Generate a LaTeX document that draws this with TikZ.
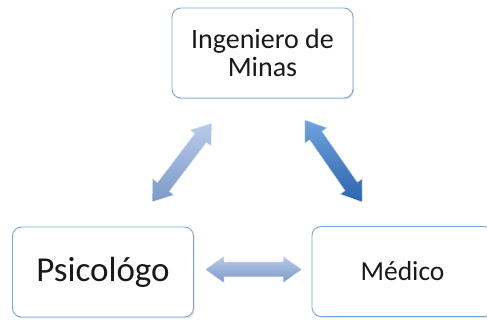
\documentclass[tikz,border=0pt]{standalone}
\usepackage{fontspec}
\setmainfont{Carlito}
\usetikzlibrary{shadows}
\definecolor{boxline}{HTML}{7EA6D6}
\definecolor{lightA}{HTML}{B8CBE8}
\definecolor{lightB}{HTML}{7D99C8}
\definecolor{darkA}{HTML}{6FA2DE}
\definecolor{darkB}{HTML}{2E64AC}
\tikzset{
  rolebox/.style={draw=boxline, line width=0.9pt, fill=white, rounded corners=9pt,
    minimum width=181pt, minimum height=90pt, align=center, text=black!90,
    drop shadow={opacity=0.25, shadow xshift=1pt, shadow yshift=-1.5pt}},
  lightarrow/.style={top color=lightA, bottom color=lightB, draw=white!85!lightA, line width=0.5pt},
  darkarrow/.style={top color=darkA, bottom color=darkB, draw=white!70!darkA, line width=0.5pt}
}
% #1 start point, #2 angle, #3 length, #4 style
\newcommand{\blockdblarrow}[4]{%
  \begin{scope}[shift={#1}, rotate=#2]
    \path[#4] (0,0) -- (19,13.5) -- (19,7.5) -- (#3-19,7.5) -- (#3-19,13.5) -- (#3,0)
      -- (#3-19,-13.5) -- (#3-19,-7.5) -- (19,-7.5) -- (19,-13.5) -- cycle;
  \end{scope}}
\begin{document}
\begin{tikzpicture}[x=1pt,y=1pt]
  \useasboundingbox (0,0) rectangle (487,320);
  \clip (0,0) rectangle (487,320);
  \node[rolebox, font=\fontsize{28}{28.5}\selectfont] (ing) at (262.5,267) {Ingeniero de\\Minas};
  \node[rolebox, font=\fontsize{35}{36}\selectfont] (psi) at (103,48) {Psicológo};
  \node[rolebox, font=\fontsize{27.5}{29}\selectfont] (med) at (402.5,48.5) {Médico};
  \blockdblarrow{(152,118)}{52.8}{99.2}{lightarrow}
  \blockdblarrow{(305,200)}{-55.2}{99.9}{darkarrow}
  \blockdblarrow{(205,50.5)}{0}{97}{lightarrow}
\end{tikzpicture}
\end{document}
